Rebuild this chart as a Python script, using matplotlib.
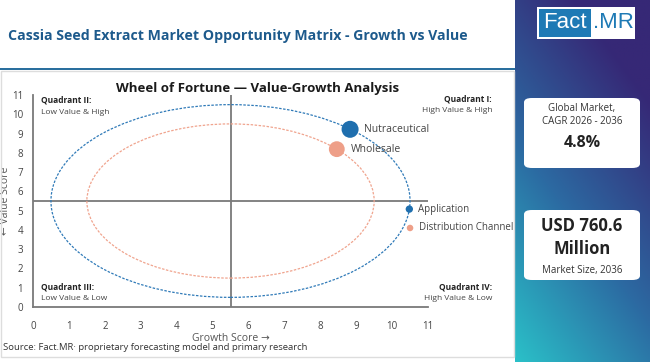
import numpy as np
import matplotlib
matplotlib.use("Agg")
import matplotlib.pyplot as plt
from matplotlib.patches import Rectangle, Ellipse, FancyBboxPatch

# ---------------- data ----------------
labels = ["Nutraceutical", "Wholesale", "Application", "Distribution Channel"]
growth = [8.83, 8.46, 10.48, 10.5]
value = [9.22, 8.19, 5.08, 4.1]
colors = ["#1f6fae", "#ee9f88", "#1f6fae", "#ee9f88"]
sizes = [150, 130, 28, 22]
ring_radius = [5.0, 4.0]
ring_colors = ["#2f7ab8", "#f0a48e"]
center = (5.5, 5.5)
xticks = list(range(0, 12))
yticks = list(range(0, 12))

FONT = ["Open Sans", "DejaVu Sans"]
plt.rcParams["font.family"] = FONT

W, H = 650, 362
fig = plt.figure(figsize=(W / 100, H / 100), dpi=100)
fig.patch.set_facecolor("white")

def fx(px):
    return px / W

def fy(py):
    return 1 - py / H

# ---------------- right gradient panel ----------------
gax = fig.add_axes([fx(515), 0, 1 - fx(515), 1])
gax.set_axis_off()
nx, ny = 60, 160
xs = np.linspace(0, 1, nx)
ys = np.linspace(0, 1, ny)
X, Y = np.meshgrid(xs, ys)
t = np.clip((X * 0.45 + (1 - Y) * 0.9) / 1.1, 0, 1)  # 0 bottom-left, 1 top-right
c_top = np.array([0x36, 0x28, 0x76]) / 255
c_mid = np.array([0x2c, 0x6a, 0xa2]) / 255
c_bot = np.array([0x2a, 0xc0, 0xc8]) / 255
tt = t[..., None]
img = np.where(tt < 0.5,
               c_bot[None, None, :] * (1 - tt * 2) + c_mid[None, None, :] * (tt * 2),
               c_mid[None, None, :] * (2 - tt * 2) + c_top[None, None, :] * (tt * 2 - 1))
gax.imshow(img, origin="upper", aspect="auto", extent=[0, 1, 0, 1])
gax.set_xlim(0, 1)
gax.set_ylim(0, 1)

# logo
fig.patches.append(Rectangle((fx(537), fy(39)), fx(635) - fx(537), fy(7) - fy(39),
                             transform=fig.transFigure, facecolor="white", edgecolor="none", zorder=5))
fig.patches.append(Rectangle((fx(539), fy(37)), fx(591) - fx(539), fy(9) - fy(37),
                             transform=fig.transFigure, facecolor="#1e7ab5", edgecolor="none", zorder=6))
fig.text(fx(565), fy(23), "Fact", color="white", fontsize=16, ha="center", va="center",
         zorder=7, family=["Liberation Sans", "DejaVu Sans"])
fig.text(fx(613), fy(23), ".MR", color="#1e7ab5", fontsize=16, ha="center", va="center",
         zorder=7, family=["Liberation Sans", "DejaVu Sans"])

# cards
for (y0, y1) in [(98, 168), (210, 280)]:
    fig.patches.append(FancyBboxPatch((fx(524), fy(y1)), fx(640) - fx(524), fy(y0) - fy(y1),
                                      boxstyle="round,pad=0,rounding_size=0.012",
                                      transform=fig.transFigure, facecolor="white",
                                      edgecolor="none", zorder=5))
fig.text(fx(582), fy(108), "Global Market,", fontsize=7, color="#333333", ha="center", va="center", zorder=6)
fig.text(fx(582), fy(121), "CAGR 2026 - 2036", fontsize=7, color="#333333", ha="center", va="center", zorder=6)
fig.text(fx(582), fy(143), "4.8%", fontsize=11.5, weight="bold", color="#222222", ha="center", va="center", zorder=6)
fig.text(fx(582), fy(226), "USD 760.6", fontsize=12, weight="bold", color="#222222", ha="center", va="center", zorder=6)
fig.text(fx(582), fy(249), "Million", fontsize=12, weight="bold", color="#222222", ha="center", va="center", zorder=6)
fig.text(fx(582), fy(271), "Market Size, 2036", fontsize=7, color="#333333", ha="center", va="center", zorder=6)

# header
fig.text(fx(8), fy(36), "Cassia Seed Extract Market Opportunity Matrix - Growth vs Value",
         fontsize=10.2, weight="bold", color="#1d5a8c", ha="left", va="center")
fig.patches.append(Rectangle((0, fy(70)), fx(515), fy(68) - fy(70), transform=fig.transFigure,
                             facecolor="#2a6f9e", edgecolor="none"))
# chart border
fig.patches.append(Rectangle((fx(1), fy(357)), fx(513), fy(71) - fy(357), transform=fig.transFigure,
                             facecolor="none", edgecolor="#dddddd", lw=1))

# ---------------- main axes ----------------
ax = fig.add_axes([fx(33), fy(307), fx(428) - fx(33), fy(95) - fy(307)])
ax.set_xlim(0, 11)
ax.set_ylim(0, 11)
ax.set_facecolor("none")
for s in ["top", "right"]:
    ax.spines[s].set_visible(False)
for s in ["left", "bottom"]:
    ax.spines[s].set_color("#7a7a7a")
    ax.spines[s].set_linewidth(1.3)
ax.set_xticks(xticks)
ax.set_yticks(yticks)
ax.tick_params(length=0, labelsize=7, colors="#444444", pad=10)
ax.tick_params(axis="y", pad=7)

ax.axhline(center[1], color="#7a7a7a", lw=1.3, zorder=1)
ax.axvline(center[0], color="#7a7a7a", lw=1.3, zorder=1)

for r, c in zip(ring_radius, ring_colors):
    ax.add_patch(Ellipse(center, 2 * r, 2 * r, facecolor="none", edgecolor=c,
                         lw=0.9, linestyle=(0, (2, 1.2)), zorder=2))

ax.scatter(growth, value, s=sizes, c=colors, zorder=4, linewidths=0, clip_on=False)
offs = [0.4, 0.4, 0.25, 0.25]
for g, v, lab, o in zip(growth, value, labels, offs):
    ax.text(g + o, v, lab, fontsize=7.5 if o > 0.3 else 7, color="#444444",
            ha="left", va="center", zorder=5, clip_on=False)

ax.set_title("Wheel of Fortune \u2014 Value-Growth Analysis", fontsize=9.5, weight="bold",
             color="#1a1a1a", x=(258 - 33) / 395, pad=2, y=1.0)
ax.set_xlabel("Growth Score \u2192", fontsize=7.5, color="#555555", labelpad=1)
ax.set_ylabel("\u2190 Value Score", fontsize=7.5, color="#555555")
ax.yaxis.set_label_coords((11 - 33) / 395, 0.5)

# quadrant labels (axes fraction)
def axf(px, py):
    return ((px - 33) / 395, (307 - py) / 212)

qkw = dict(transform=ax.transAxes, fontsize=6, clip_on=False, va="center")
ax.text(*axf(41, 100), "Quadrant II:", weight="bold", color="#222222", ha="left", **qkw)
ax.text(*axf(41, 112), "Low Value & High", color="#444444", ha="left", **qkw)
ax.text(*axf(492, 99), "Quadrant I:", weight="bold", color="#222222", ha="right", **qkw)
ax.text(*axf(492, 111), "High Value & High", color="#444444", ha="right", **qkw)
ax.text(*axf(41, 287), "Quadrant III:", weight="bold", color="#222222", ha="left", **qkw)
ax.text(*axf(41, 298), "Low Value & Low", color="#444444", ha="left", **qkw)
ax.text(*axf(492, 287), "Quadrant IV:", weight="bold", color="#222222", ha="right", **qkw)
ax.text(*axf(492, 298), "High Value & Low", color="#444444", ha="right", **qkw)

fig.text(fx(3), fy(348), "Source: Fact.MR\u00b7 proprietary forecasting model and primary research",
         fontsize=6.8, color="#333333", ha="left", va="center")

fig.savefig("out.png", dpi=100, facecolor="white")
